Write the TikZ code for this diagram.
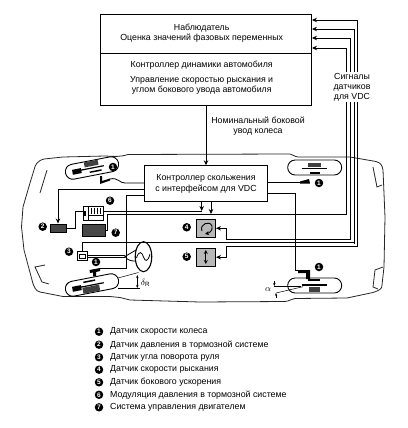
\documentclass[tikz,border=0pt]{standalone}
\usepackage{fontspec}
\setmainfont{Liberation Sans}
\usetikzlibrary{
    arrows.meta,
    positioning,
    calc,
    shapes.geometric
}
\tikzset{
    txt/.style={font=\fontsize{8.8}{10}\selectfont, inner sep=0pt, align=center},
    legendtxt/.style={font=\fontsize{8.8}{10}\selectfont, inner sep=0pt, anchor=west},
    badge/.style={circle, fill=black, text=white, inner sep=0pt, minimum size=8.5pt,
                  font=\fontsize{6.5}{7}\bfseries\selectfont},
    blockbox/.style={draw, line width=0.9pt, inner sep=0pt},
    darkbox/.style={draw, fill=black!72, line width=0.5pt, inner sep=0pt},
    sensorbox/.style={draw, fill=black!28, line width=0.7pt, inner sep=0pt,
                      minimum width=19.7pt, minimum height=18pt},
    capsule/.style={draw, line width=0.9pt, inner sep=0pt, minimum width=54pt,
                    minimum height=15pt, rounded corners=7.4pt},
    link/.style={line width=0.8pt},
    arr/.style={line width=0.8pt, -{Stealth[length=5pt,width=4.5pt]}},
    body/.style={line width=0.8pt, black!85},
    tiny arr/.style={line width=0.5pt, -{Stealth[length=3pt,width=2.4pt]}}
}
\begin{document}
\begin{tikzpicture}[x=1pt, y=-1pt]
    \useasboundingbox (0,0) rectangle (407,428);

    % Car body
    \draw[body] (128,154.5) .. controls (120,157) and (115,156.5) .. (105,156)
        -- (63,157) -- (44,159) .. controls (37,161) and (35,165) .. (34,170)
        -- (30,183) -- (23,207) -- (21.5,227) -- (24,250) -- (32,280)
        .. controls (34,288) and (36,291) .. (40,292) -- (63,296.5) -- (110,296.5)
        -- (120,297.5) -- (130,300) -- (200,302) -- (285,301.5)
        .. controls (290,301) and (291,299) .. (295,298.5) -- (347,298)
        -- (373,292.5) .. controls (380,290) and (382,289) .. (382,285)
        -- (384,267) -- (385,217) -- (383,170)
        .. controls (382,165) and (381,163) .. (376,161.5) -- (350,157) -- (298,157)
        .. controls (294,156.5) and (293,154.5) .. (290,154) -- cycle;
    \draw[body] (47,170) -- (40,193);
    \draw[body] (45,265) -- (35,267) -- (42,282) -- (49,284);
    \draw[body] (373,167) -- (377,187) -- (382,185);
    \draw[body] (383,267) -- (375,270) -- (373,287) -- (378,289);

    % Observer and vehicle controller
    \node[blockbox, minimum width=211pt, minimum height=91pt] (obs) at (206,59.5) {};
    \draw[link] (obs.west |- 0,53) -- (obs.east |- 0,53);
    \node[txt] (t1) at (201.7,28) {Наблюдатель};
    \node[txt] (t2) at (201.7,38.5) {Оценка значений фазовых переменных};
    \node[txt] (t3) at (201.7,65) {Контроллер  динамики  автомобиля};
    \node[txt] (t4) at (201.7,80) {Управление  скоростью  рыскания и};
    \node[txt] (t5) at (201.7,90) {углом бокового увода автомобиля};
    \node[txt] (t6) at (258,126) {Номинальный боковой\\увод колеса};

    % Slip controller
    \node[blockbox, fill=white, minimum width=123.5pt, minimum height=35.5pt] (ctl) at (206,183.5) {};
    \node[txt] (t7) at (206,178) {Контроллер скольжения};
    \node[txt] (t8) at (206,189.5) {с интерфейсом для VDC};
    \draw[arr] (obs.south -| ctl.north) -- (ctl.north);

    % Sensor signal lines
    \coordinate (sa) at (346.7,48);
    \coordinate (sb) at (350.4,38);
    \coordinate (sc) at (354,29);
    \coordinate (sd) at (357.5,20);
    \coordinate (ea) at (346.7,214);
    \coordinate (eb) at (350.4,239.5);
    \coordinate (ec) at (354,243);
    \coordinate (ed) at (357.5,246.5);
    \draw[arr] (ea) -- (sa) -- (obs.east |- sa);
    \draw[arr] (eb) -- (sb) -- (obs.east |- sb);
    \draw[arr] (ec) -- (sc) -- (obs.east |- sc);
    \draw[arr] (ed) -- (sd) -- (obs.east |- sd);
    \node[txt, fill=white, inner sep=1pt] (t9) at (352,87) {Сигналы\\датчиков\\для VDC};

    % Wheels
    \node[capsule, rotate=11] (wfl) at (92,168) {};
    \node[capsule, rotate=11] (wrl) at (92,285) {};
    \node[capsule] (wfr) at (314.7,167.5) {};
    \node[capsule] (wrr) at (314.7,285.5) {};
    \begin{scope}[shift={(92,168)}, rotate=11]
        \fill[black!75] (-7,-7) rectangle (7,-2);
        \fill (-20,-2) rectangle (-11,3);
        \draw[line width=1.2pt] (-12,0) -- (12,0);
        \fill (-3,3) rectangle (9,4.5);
    \end{scope}
    \begin{scope}[shift={(92,285)}, rotate=11]
        \fill[black!75] (-10,1) rectangle (7,7);
        \fill (-20,-2) rectangle (-11,3);
        \draw[line width=1.2pt] (-12,0) -- (12,0);
        \fill (-8,-5) rectangle (4,-3.5);
    \end{scope}
    \fill[black!75] (308,162.5) rectangle (321,167);
    \draw[line width=1.2pt] (301.5,168.5) -- (327,168.5);
    \fill (310,172) rectangle (320,174);
    \fill (308,279) rectangle (320,281);
    \draw[line width=1.2pt] (301.5,285) -- (327,285);
    \fill[black!75] (309,286.5) rectangle (320,292);

    % Wheel speed sensors
    \fill (100,176) -- (102,176) -- (102,181) -- (110,178.5) -- (110,180.5) -- (100,184) -- cycle;
    \coordinate (swfl) at (110,179);
    \fill (89.5,270) -- (100,268) -- (100,271) -- (96,272) -- (96,276) -- (93,276.5) -- (93,272.5) -- (90,273) -- cycle;
    \coordinate (swrl) at (100,268.5);
    \fill (300,181.5) -- (309,179) -- (310,183.5) -- (300,183.5) -- cycle;
    \coordinate (swfr) at (303,182.7);
    \fill (298,270) -- (310,270) -- (310,279) -- (306,279) -- (306,273) -- (298,273) -- cycle;
    \coordinate (swrr) at (298,270.5);

    % Controller to wheel sensors
    \coordinate (ka) at (125,183);
    \draw[link] (swfl) .. controls (118,177) and (120,183.5) .. (ka) -- (ctl.west |- ka);
    \coordinate (kb) at (126.5,195);
    \draw[link] (ctl.west |- kb) -- (kb) -- (swrl -| kb) -- (swrl);
    \draw[link] (ctl.east |- swfr) -- (swfr);
    \coordinate (kc) at (295,193);
    \draw[link] (ctl.east |- kc) -- (kc) -- (kc |- swrr) -- (swrr);

    % Brake pressure, modulation, engine
    \node[darkbox, minimum width=16pt, minimum height=8.5pt] (brk) at (58,228) {};
    \node[blockbox, fill=white, minimum width=20.3pt, minimum height=14pt] (mod) at (93.2,213.7) {};
    \draw[line width=0.5pt] (88,206.7) -- (88,220.7);
    \fill (83,211) rectangle (86,216);
    \draw[line width=0.5pt] (88,215) -- (103.3,215);
    \foreach \xi in {91,94,97,100}{\draw[line width=0.8pt] (\xi,208) -- (\xi,214);}
    \node[darkbox, minimum width=22.3pt, minimum height=12pt] (eng) at (93.8,230) {};
    \coordinate (kd) at (58,189);
    \draw[arr] (ctl.west |- kd) -- (kd) -- (brk.north);
    \coordinate (ke) at (75,211.7);
    \draw[link] (brk.east) -- (brk.east -| ke) -- (ke) -- (mod.west |- ke);
    \coordinate (kf) at (201.7,211);
    \coordinate (kg) at (211,214);
    \coordinate (kh) at (107.5,214);
    \draw[arr] (ctl.south -| kf) -- (kf);
    \draw[arr] (ctl.south -| kg) -- (kg);
    \draw[link] (mod.east |- kf) -- (kf);
    \draw[link] (eng.east) -- (eng.east -| kh) -- (kh) -- (ea);

    % Steering angle sensor and steering wheel
    \node[draw, fill=white, line width=0.8pt, inner sep=0pt, minimum width=10pt, minimum height=9.7pt] (ang) at (82.3,256) {};
    \draw[line width=0.5pt] (79,254.5) rectangle (85.5,258);
    \node[draw, ellipse, line width=1.1pt, inner sep=0pt, minimum width=16.5pt, minimum height=30pt] (whl) at (143.5,256.7) {};
    \coordinate (km) at (125,256.5);
    \draw[line width=0.7pt] (ang.east |- 0,255.3) -- (km |- 0,255.3);
    \draw[line width=0.7pt] (ang.east |- 0,257.7) -- (km |- 0,257.7);
    \draw[line width=0.8pt] (136,250) -- (km) .. controls (128,261) and (132,261) .. (136,261);
    \draw[line width=0.8pt] (136.5,258) .. controls (139,250) and (142,252) .. (143.5,257)
        .. controls (145,262) and (148,262) .. (150,254);
    \coordinate (kn) at (82.7,242.7);
    \draw[link] (ang.north -| kn) -- (kn) -- (ec |- kn) -- (ec);

    % Yaw rate and lateral acceleration sensors
    \node[sensorbox] (yaw) at (205.8,228.3) {};
    \draw[line width=0.9pt, -{Stealth[length=4pt,width=4pt]}] (202,231) .. controls (199,224) and (210,220) .. (212,226) .. controls (213,231) and (209,233) .. (205,234);
    \node[sensorbox] (lat) at (205.8,257.2) {};
    \draw[line width=1pt, {Stealth[length=4pt,width=4pt]}-{Stealth[length=4pt,width=4pt]}] (205.8,250) -- (205.8,264);
    \coordinate (kp) at (226.7,239.5);
    \coordinate (kq) at (226.7,246.5);
    \draw[arr] (eb) -- (kp) -- (kp |- yaw.east) -- (yaw.east);
    \draw[arr] (ed) -- (kq) -- (kq |- lat.east) -- (lat.east);

    % Angles
    \coordinate (dt) at (118,278);
    \coordinate (db) at (118,288);
    \draw[line width=0.5pt] (dt) -- (138.5,272.5);
    \draw[line width=0.5pt] (db) -- (140,288);
    \draw[tiny arr, {Stealth[length=3pt,width=2.4pt]}-{Stealth[length=3pt,width=2.4pt]}] (137.3,275) -- (137.3,288);
    \node[txt] (dr) at (145.5,283) {$\delta_{\mathrm{R}}$};
    \coordinate (aa) at (274.3,286);
    \coordinate (ab) at (276,293);
    \draw[line width=0.5pt] (aa) -- (301,286);
    \draw[line width=0.5pt] (ab) -- (303,286.7);
    \draw[tiny arr] (274.3,281) -- (aa);
    \draw[tiny arr] (276,298) -- (ab);
    \node[txt] (al) at (268,290) {$\alpha$};

    % Numbers on the car
    \node[badge] (n1a) at (113,167) {1};
    \node[badge] (n1b) at (319,183) {1};
    \node[badge] (n1c) at (319,267) {1};
    \node[badge] (n1d) at (96,262) {1};
    \node[badge] (n2) at (42.7,226.7) {2};
    \node[badge] (n3) at (69,251.7) {3};
    \node[badge] (n4) at (186.7,227.3) {4};
    \node[badge] (n5) at (186.7,256.7) {5};
    \node[badge] (n6) at (110,200.7) {6};
    \node[badge] (n7) at (115.7,232.7) {7};

    % Legend
    \node[badge] (l1) at (99,331.7) {1};
    \node[badge] (l2) at (99,344.7) {2};
    \node[badge] (l3) at (99,357.2) {3};
    \node[badge] (l4) at (99,369.7) {4};
    \node[badge] (l5) at (99,382.3) {5};
    \node[badge] (l6) at (99,394.8) {6};
    \node[badge] (l7) at (99,407.3) {7};
    \node[legendtxt] (lt1) at (110,331.7) {Датчик скорости колеса};
    \node[legendtxt] (lt2) at (110,344.7) {Датчик  давления в тормозной системе};
    \node[legendtxt] (lt3) at (110,357.2) {Датчик угла поворота руля};
    \node[legendtxt] (lt4) at (110,369.7) {Датчик скорости рыскания};
    \node[legendtxt] (lt5) at (110,382.3) {Датчик бокового ускорения};
    \node[legendtxt] (lt6) at (110,394.8) {Модуляция давления в тормозной системе};
    \node[legendtxt] (lt7) at (110,407.3) {Система управления двигателем};
\end{tikzpicture}
\end{document}
